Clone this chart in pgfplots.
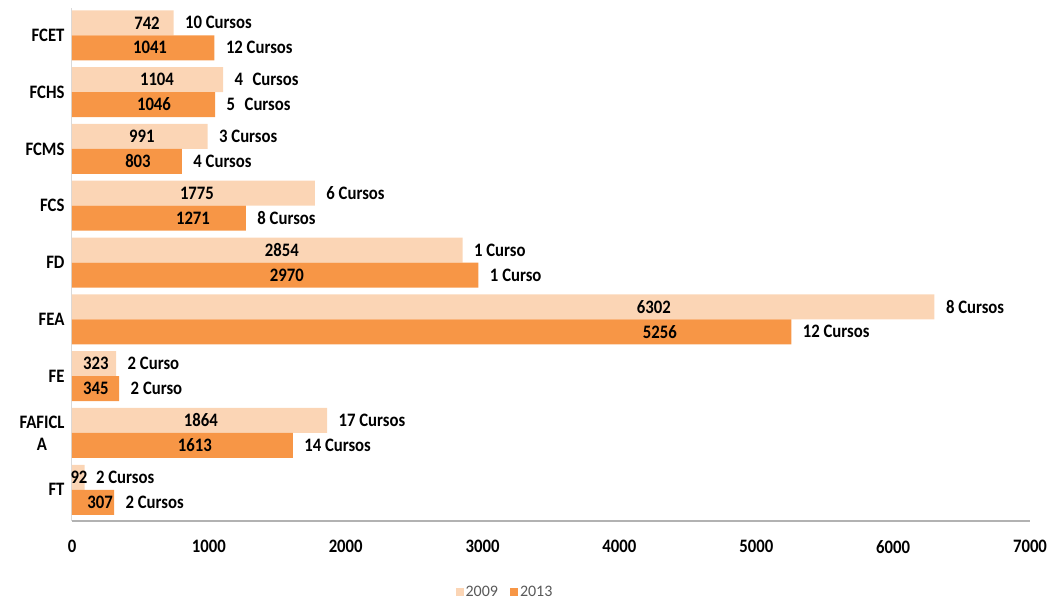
\documentclass[border=0pt]{standalone}
\usepackage{pgfplots}
\usepackage{pgfplotstable}
\pgfplotsset{compat=1.18}
\usepackage{fontspec}
\setmainfont{Carlito}
\newfontfamily\narrow[FakeStretch=0.88]{Carlito}
\newcommand\lab{\fontsize{19}{22}\narrow\bfseries}

\definecolor{c09}{HTML}{FBD5B5}
\definecolor{c13}{HTML}{F79646}
\definecolor{legtext}{HTML}{595959}

% i: row, v: students, l: x position of the value label, c: number of courses
\pgfplotstableread[col sep=comma]{
i,v09,v13,l09,l13,c09,c13
0,742,1041,548,570,10 Cursos,12 Cursos
1,1104,1046,621,599,4\enspace Cursos,5\enspace Cursos
2,991,803,511,482,3 Cursos,4 Cursos
3,1775,1271,913,884,6 Cursos,8 Cursos
4,2854,2970,1534,1570,1 Curso,1 Curso
5,6302,5256,4251,4295,8 Cursos,12 Cursos
6,323,345,175,175,2 Curso,2 Curso
7,1864,1613,942,898,17 Cursos,14 Cursos
8,92,307,51,205,2 Cursos,2 Cursos
}\data

\begin{document}
\begin{tikzpicture}[font=\fontsize{17}{20}\selectfont]
\useasboundingbox (-72pt,-81pt) rectangle (980pt,521pt);
\begin{axis}[
  scale only axis,
  width=958pt, height=513pt,
  xmin=0, xmax=7000,
  ymin=-0.48, ymax=8.55,
  y dir=reverse,
  clip=false,
  axis lines*=left,
  x axis line style={draw=black!30, line width=1.6pt},
  y axis line style={draw=black!15, line width=1pt},
  major tick length=0pt,
  xtick={0,1000,...,7000},
  /pgf/number format/assume math mode=true,
  /pgf/number format/1000 sep={},
  xticklabel style={font=\lab, yshift=-16pt},
  ytick={0,...,8},
  yticklabels={FCET,FCHS,FCMS,FCS,FD,FEA,FE,{FAFICL\\A},FT},
  yticklabel style={font=\lab, align=center, xshift=-4pt},
  legend style={at={(0.452,-0.139)}, anchor=center, draw=none,
    font=\fontsize{16}{19}\selectfont\color{legtext},
    /tikz/every even column/.append style={column sep=10pt}},
  legend columns=2,
]
% 2009 bars with course counts
\addplot[xbar, bar width=0.44, bar shift=0pt, fill=c09, draw=none,
  nodes near coords, point meta=explicit symbolic,
  nodes near coords style={anchor=west, xshift=8pt, font=\lab},
  legend image code/.code={\fill[c09] (0pt,-4pt) rectangle (8pt,4pt);}]
  table[x=v09, y expr=\thisrow{i}-0.22, meta=c09] {\data};
\addlegendentry{2009}
% 2013 bars with course counts
\addplot[xbar, bar width=0.44, bar shift=0pt, fill=c13, draw=none,
  nodes near coords, point meta=explicit symbolic,
  nodes near coords style={anchor=west, xshift=8pt, font=\lab},
  legend image code/.code={\fill[c13] (0pt,-4pt) rectangle (8pt,4pt);}]
  table[x=v13, y expr=\thisrow{i}+0.22, meta=c13] {\data};
\addlegendentry{2013}
% student totals written inside the bars
\addplot[forget plot, draw=none, mark=none,
  nodes near coords, point meta=explicit symbolic,
  nodes near coords style={anchor=center, font=\lab}]
  table[x=l09, y expr=\thisrow{i}-0.22, meta=v09] {\data};
\addplot[forget plot, draw=none, mark=none,
  nodes near coords, point meta=explicit symbolic,
  nodes near coords style={anchor=center, font=\lab}]
  table[x=l13, y expr=\thisrow{i}+0.22, meta=v13] {\data};
\end{axis}
\end{tikzpicture}
\end{document}
